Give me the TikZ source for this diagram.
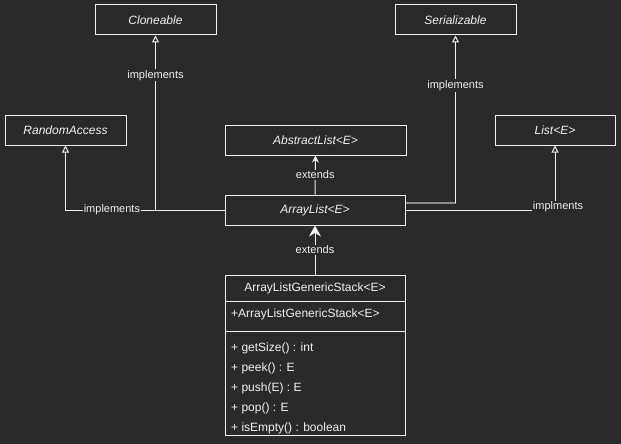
\documentclass[tikz,border=0pt]{standalone}
\usepackage{fontspec}
\setmainfont{Liberation Sans}
\usetikzlibrary{arrows.meta}
\definecolor{bgdark}{RGB}{42,42,42}
\definecolor{fgline}{RGB}{240,240,240}
\definecolor{selgray}{RGB}{140,140,140}

\begin{document}
\begin{tikzpicture}[x=1pt, y=-1pt,
  iface/.style={draw=fgline, line width=1pt, text=fgline, minimum height=30pt,
    inner sep=0pt, font=\fontsize{12}{14}\selectfont\itshape},
  member/.style={text=fgline, inner sep=0pt, font=\fontsize{12}{14}\selectfont},
  lbl/.style={fill=bgdark, text=fgline, inner sep=1pt, font=\fontsize{11}{13}\selectfont},
  impl/.style={draw=fgline, line width=1pt, -{Triangle[open, length=7pt, width=7pt]}},
  ext/.style={draw=fgline, line width=1pt, -{Stealth[length=7pt, width=7pt]}},
  extbig/.style={draw=fgline, line width=1pt, -{Stealth[length=11pt, width=12pt]}}]
  % background
  \fill[bgdark] (0,0) rectangle (621,444);

  % interfaces and super classes
  \node[iface, minimum width=121pt] (cloneable) at (155.5,20) {Cloneable};
  \node[iface, minimum width=121pt] (serial) at (455.5,20) {Serializable};
  \node[iface, minimum width=121pt] (randacc) at (65.5,130) {RandomAccess};
  \node[iface, minimum width=120pt] (list) at (555,130) {List<E>};
  \node[iface, minimum width=181pt] (abslist) at (315.5,140) {AbstractList<E>};
  \node[iface, minimum width=180pt] (arrlist) at (315,210) {ArrayList<E>};

  % the stack class
  \node[draw=fgline, line width=1pt, minimum width=180pt, minimum height=160pt,
    inner sep=0pt] (stack) at (315,355) {};
  \draw[fgline, line width=1pt] (225,301) -- (405,301);
  \draw[fgline, line width=1pt] (225,331) -- (405,331);
  \node[member] (stackname) at (315,288) {ArrayListGenericStack<E>};
  \node[member, anchor=west] (ctor) at (231,314) {+ArrayListGenericStack<E>};
  \foreach \m [count=\i] in {{+ getSize() : int}, {+ peek() : E}, {+ push(E) : E},
      {+ pop() : E}, {+ isEmpty() : boolean} } {
    \node[member, anchor=west] (m\i) at (231,328+20*\i) {\m};
  }

  % implements
  \draw[impl] (arrlist.west) -| node[lbl, pos=0.354] {implements} (randacc.south);
  \draw[impl] (arrlist.west) -| node[lbl, pos=0.886] {implements} (cloneable.south);
  \coordinate (sercorner) at (455.5,203);
  \draw[selgray, line width=1.5pt] ([yshift=7pt]arrlist.east) -- (sercorner);
  \draw[impl] (sercorner) -- node[lbl, pos=0.702] {implements} (serial.south);
  \draw[impl] (arrlist.east) -| node[lbl, pos=0.5, xshift=3pt, yshift=3pt] {implments} (list.south);

  % extends
  \draw[ext] (arrlist.north) -- node[lbl] {extends} (abslist.south);
  \draw[extbig] (stack.north) -- node[lbl] {extends} (arrlist.south);
\end{tikzpicture}
\end{document}
